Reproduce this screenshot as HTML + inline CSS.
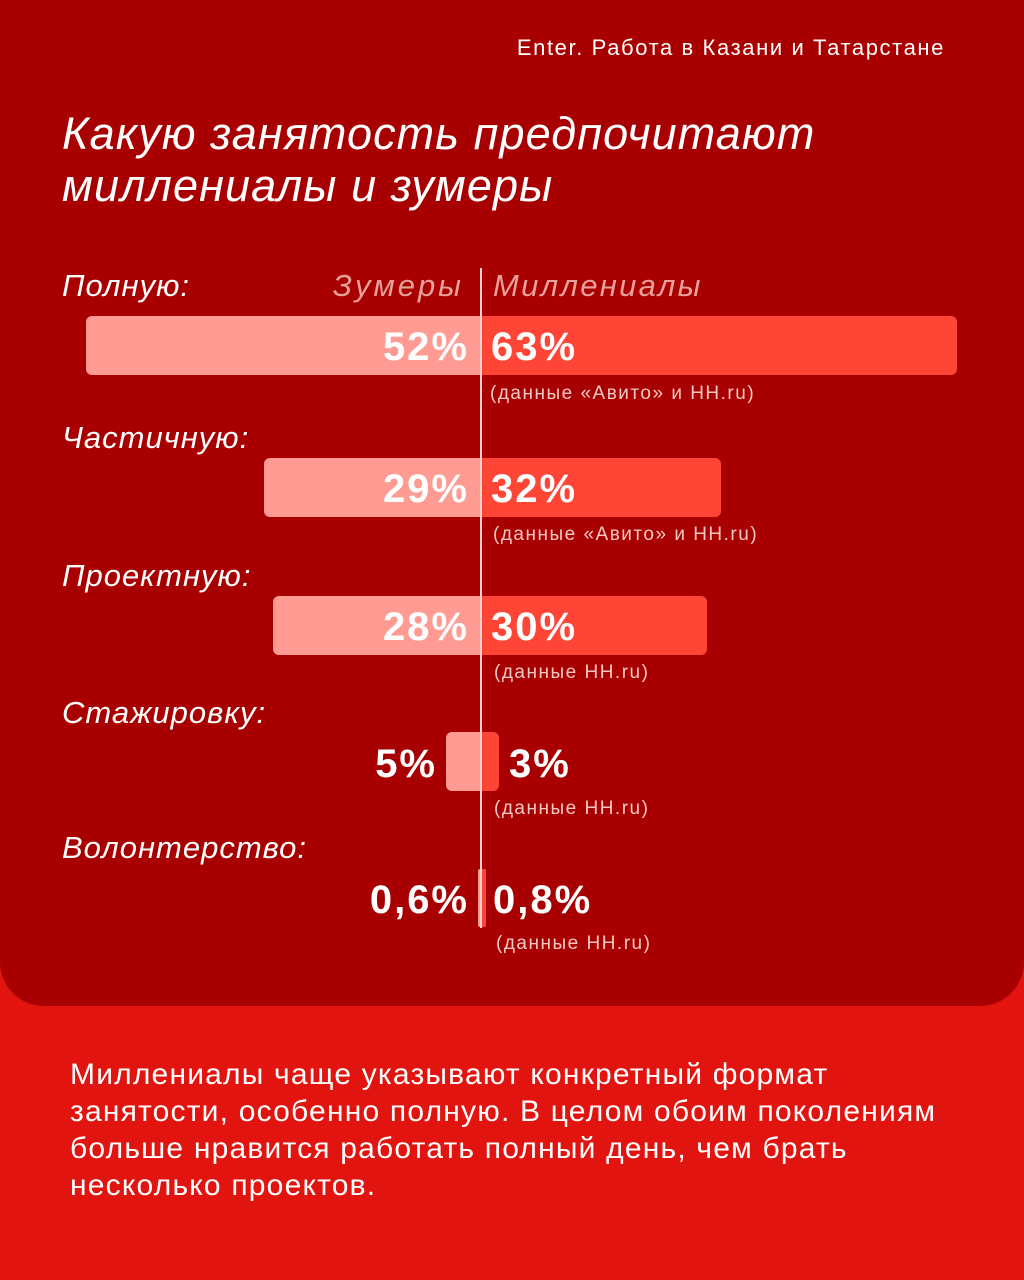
<!DOCTYPE html>
<html><head><meta charset="utf-8"><style>
*{margin:0;padding:0;box-sizing:border-box}
body{width:1024px;height:1280px;background:#e2140f;position:relative;overflow:hidden;font-family:"Liberation Sans",sans-serif;color:#fff}
.panel{position:absolute;left:0;top:0;width:1024px;height:1006px;background:#a80000;border-radius:0 0 44px 44px}
.a{position:absolute;white-space:nowrap}
.lab{font-style:italic;font-size:31px;letter-spacing:1px}
.pct{font-weight:bold;font-size:40px;line-height:40px;letter-spacing:2px}
.src{font-size:19px;color:#f4c8c4;letter-spacing:1.5px}
.bl{position:absolute;background:#ff9b92;border-radius:6px 0 0 6px}
.br{position:absolute;background:#ff4636;border-radius:0 6px 6px 0}
</style></head><body>
<div class="panel"></div>
<div class="a" style="right:79px;top:35px;font-size:22px;letter-spacing:1.6px">Enter. Работа в Казани и Татарстане</div>
<div class="a" style="left:62px;top:108px;font-size:45px;font-style:italic;line-height:52px;letter-spacing:1.1px">Какую занятость предпочитают<br>миллениалы и зумеры</div>
<div class="a lab" style="left:62px;top:268px">Полную:</div>
<div class="a lab" style="right:560px;top:268px;color:#e8a09a;letter-spacing:3px">Зумеры</div>
<div class="a lab" style="left:493px;top:268px;color:#e8a09a;letter-spacing:2.3px">Миллениалы</div>

<div class="bl" style="left:86px;top:316px;width:395px;height:59px"></div>
<div class="br" style="left:481px;top:316px;width:476px;height:59px"></div>
<div class="a pct" style="right:555px;top:327px">52%</div>
<div class="a pct" style="left:491px;top:327px">63%</div>
<div class="a src" style="left:490px;top:383px">(данные «Авито» и HH.ru)</div>

<div class="a lab" style="left:62px;top:420px">Частичную:</div>
<div class="bl" style="left:264px;top:458px;width:217px;height:59px"></div>
<div class="br" style="left:481px;top:458px;width:240px;height:59px"></div>
<div class="a pct" style="right:555px;top:469px">29%</div>
<div class="a pct" style="left:491px;top:469px">32%</div>
<div class="a src" style="left:493px;top:524px">(данные «Авито» и HH.ru)</div>

<div class="a lab" style="left:62px;top:558px">Проектную:</div>
<div class="bl" style="left:273px;top:596px;width:208px;height:59px"></div>
<div class="br" style="left:481px;top:596px;width:226px;height:59px"></div>
<div class="a pct" style="right:555px;top:607px">28%</div>
<div class="a pct" style="left:491px;top:607px">30%</div>
<div class="a src" style="left:494px;top:662px">(данные HH.ru)</div>

<div class="a lab" style="left:62px;top:695px">Стажировку:</div>
<div class="bl" style="left:446px;top:732px;width:35px;height:59px"></div>
<div class="br" style="left:481px;top:732px;width:18px;height:59px"></div>
<div class="a pct" style="right:587px;top:744px">5%</div>
<div class="a pct" style="left:509px;top:744px">3%</div>
<div class="a src" style="left:494px;top:798px">(данные HH.ru)</div>

<div class="a lab" style="left:62px;top:830px">Волонтерство:</div>
<div class="bl" style="left:478px;top:869px;width:3px;height:58px;border-radius:2px 0 0 2px"></div>
<div class="br" style="left:481px;top:869px;width:5px;height:58px;border-radius:0 2px 2px 0"></div>
<div class="a pct" style="right:555px;top:880px">0,6%</div>
<div class="a pct" style="left:493px;top:880px">0,8%</div>
<div class="a src" style="left:496px;top:933px">(данные HH.ru)</div>

<div class="a" style="left:480px;top:268px;width:2px;height:660px;background:#f6d0cc"></div>

<div class="a" style="left:70px;top:1056px;font-size:30px;line-height:37px;letter-spacing:1.2px">Миллениалы чаще указывают конкретный формат<br>занятости, особенно полную. В целом обоим поколениям<br>больше нравится работать полный день, чем брать<br>несколько проектов.</div>
</body></html>
